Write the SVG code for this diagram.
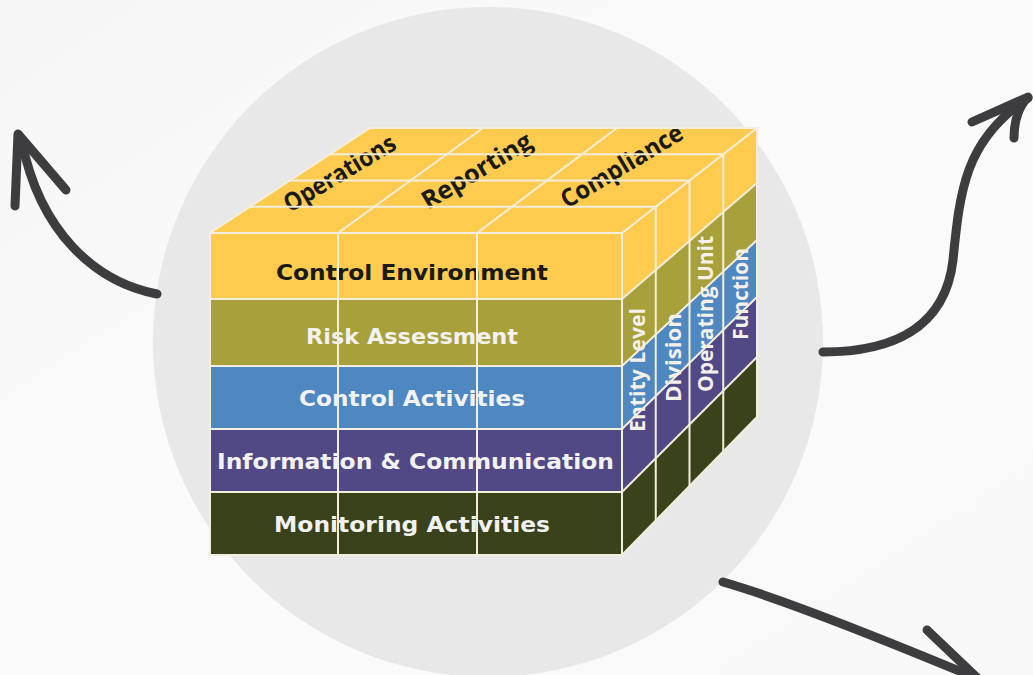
<svg xmlns="http://www.w3.org/2000/svg" width="1033" height="675" viewBox="0 0 1033 675">
<defs>
<linearGradient id="bg" x1="0" y1="0" x2="1" y2="1">
<stop offset="0" stop-color="#f6f6f6"/>
<stop offset="0.5" stop-color="#fbfbfb"/>
<stop offset="1" stop-color="#f8f8f8"/>
</linearGradient>
<style>
.grid{stroke:#f4eedc;stroke-width:2;fill:none;stroke-linecap:round}
.front{font-family:"DejaVu Sans",Verdana,sans-serif;font-weight:bold;font-size:21px;text-anchor:middle}
.top{font-family:"Open Sans","DejaVu Sans",sans-serif;font-weight:bold;font-size:25px;fill:#1a1a1a}
.side{font-family:"Open Sans","DejaVu Sans",sans-serif;font-weight:bold;font-size:22px;fill:#f4f1ea}
.arrow{fill:none;stroke:#3d3d3f;stroke-width:9;stroke-linecap:round;stroke-linejoin:round}
</style>
</defs>
<rect width="1033" height="675" fill="url(#bg)"/>
<circle id="backdrop" cx="488" cy="342" r="335" fill="#e8e8e8"/>

<g id="connectors">
<path class="arrow" d="M157,294 C95,282 40,232 22,142"/>
<path class="arrow" d="M15,206 L18,134 L66,190"/>
<path class="arrow" d="M823,352 C890,352 945,330 953,260 C960,190 965,140 1028,98"/>
<path class="arrow" d="M972,122 L1028,97 Q1014,112 1014,138"/>
<path class="arrow" d="M723,582 Q800,604 1005,690"/>
<path class="arrow" d="M927,630 L990,690"/>
</g>

<g id="cube">
<g id="top-face">
<polygon points="210,233 370,128 757,128 622,233" fill="#fecb4f"/>
</g>
<g id="side-face">
<polygon points="622,233 757,128 757,183 622,299" fill="#fecb4f"/>
<polygon points="622,299 757,183 757,240 622,366" fill="#a8a03b"/>
<polygon points="622,366 757,240 757,297 622,429" fill="#4f87c1"/>
<polygon points="622,429 757,297 757,357 622,492" fill="#514886"/>
<polygon points="622,492 757,357 757,417 622,555" fill="#3a421b"/>
</g>
<g id="front-face">
<rect x="210" y="233" width="412" height="66" fill="#fecb4f"/>
<rect x="210" y="299" width="412" height="67" fill="#a8a03b"/>
<rect x="210" y="366" width="412" height="63" fill="#4f87c1"/>
<rect x="210" y="429" width="412" height="63" fill="#514886"/>
<rect x="210" y="492" width="412" height="63" fill="#3a421b"/>
</g>

<g id="row-control-environment"><text class="front" x="412" y="280" fill="#1a1a1a" textLength="272" lengthAdjust="spacingAndGlyphs">Control Environment</text></g>
<g id="row-risk-assessment"><text class="front" x="412" y="344" fill="#f2f2f2" textLength="212" lengthAdjust="spacingAndGlyphs">Risk Assessment</text></g>
<g id="row-control-activities"><text class="front" x="412" y="406" fill="#f2f2f2" textLength="226" lengthAdjust="spacingAndGlyphs">Control Activities</text></g>
<g id="row-information"><text class="front" x="415.5" y="469" fill="#f2f2f2" textLength="397" lengthAdjust="spacingAndGlyphs">Information &amp; Communication</text></g>
<g id="row-monitoring"><text class="front" x="412" y="532" fill="#f2f2f2" textLength="276" lengthAdjust="spacingAndGlyphs">Monitoring Activities</text></g>

<g id="col-operations"><text class="top" transform="translate(290,213) rotate(-31)" textLength="126" lengthAdjust="spacingAndGlyphs">Operations</text></g>
<g id="col-reporting"><text class="top" transform="translate(428,210) rotate(-31)" textLength="124" lengthAdjust="spacingAndGlyphs">Reporting</text></g>
<g id="col-compliance"><text class="top" transform="translate(567,209) rotate(-31)" textLength="138" lengthAdjust="spacingAndGlyphs">Compliance</text></g>

<g id="unit-entity-level"><text class="side" transform="translate(645,432) rotate(-90)" textLength="124" lengthAdjust="spacingAndGlyphs">Entity Level</text></g>
<g id="unit-division"><text class="side" transform="translate(681,402) rotate(-90)" textLength="89" lengthAdjust="spacingAndGlyphs">Division</text></g>
<g id="unit-operating-unit"><text class="side" transform="translate(713,392) rotate(-90)" textLength="156" lengthAdjust="spacingAndGlyphs">Operating Unit</text></g>
<g id="unit-function"><text class="side" transform="translate(748,340) rotate(-90)" textLength="92" lengthAdjust="spacingAndGlyphs">Function</text></g>

<g id="grid">
<path class="grid" d="M210,233 L370,128 L757,128 L622,233 Z"/>
<path class="grid" d="M250,206.75 L655.75,206.75 M290,180.5 L689.5,180.5 M330,154.25 L723.25,154.25"/>
<path class="grid" d="M338,233 L483,128 M477,233 L617,128"/>
<path class="grid" d="M210,233 L210,555 L622,555 L622,233 M338,233 L338,555 M477,233 L477,555"/>
<path class="grid" d="M210,299 L622,299 M210,366 L622,366 M210,429 L622,429 M210,492 L622,492"/>
<path class="grid" d="M622,299 L757,183 M622,366 L757,240 M622,429 L757,297 M622,492 L757,357 M622,555 L757,417 L757,128"/>
<path class="grid" d="M655.75,206.75 L655.75,520.5 M689.5,180.5 L689.5,486 M723.25,154.25 L723.25,451.5"/>
</g>
</g>
</svg>
